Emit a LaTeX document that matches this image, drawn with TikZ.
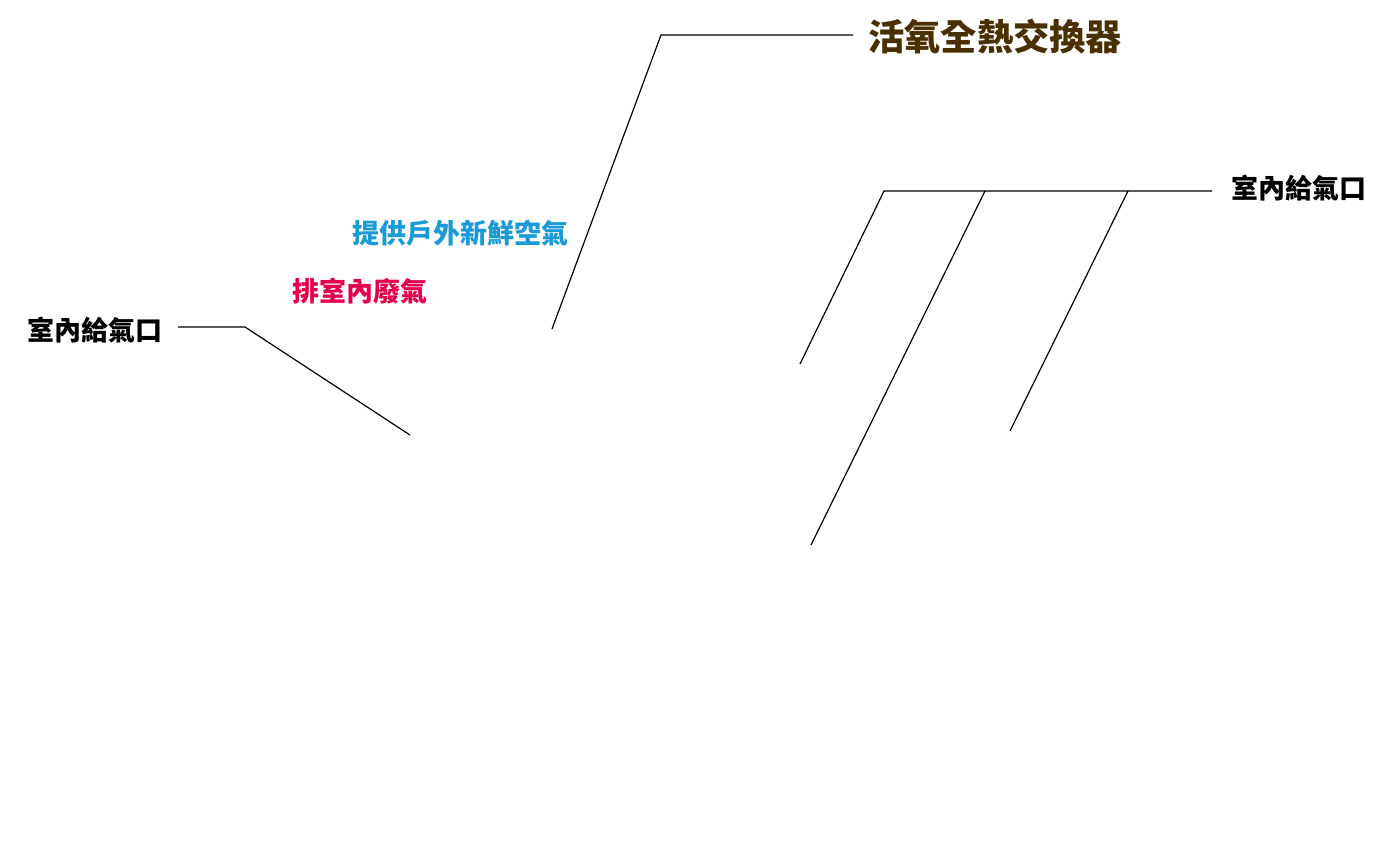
\documentclass[tikz,border=0pt]{standalone}
\usepackage{fontspec}
\usepackage{tikz}
\newfontfamily\cjk{Noto Sans CJK TC}
\definecolor{titlebrown}{HTML}{4A3000}
\definecolor{freshblue}{HTML}{1A9BD7}
\definecolor{wastered}{HTML}{E6004C}
\tikzset{
  lbl/.style={inner sep=0pt, font=\cjk\bfseries\fontsize{20.25}{22}\selectfont},
  lead/.style={black, line width=0.9pt}
}
\begin{document}
\begin{tikzpicture}[x=0.75pt,y=-0.75pt]
\useasboundingbox (0,0) rectangle (1394,845);
% labels
\node[lbl, anchor=west, text=titlebrown, font=\cjk\bfseries\fontsize{27.2}{30}\selectfont] (title) at (868,37) {活氧全熱交換器};
\node[lbl, anchor=west, text=freshblue] (fresh) at (352,233) {提供戶外新鮮空氣};
\node[lbl, anchor=west, text=wastered] (waste) at (292,291) {排室內廢氣};
\node[lbl, anchor=west] (inletL) at (27,330) {室內給氣口};
\node[lbl, anchor=west] (inletR) at (1231,188) {室內給氣口};
% leader points
\coordinate (t1) at (853,35);
\coordinate (t2) at (661,35);
\coordinate (t3) at (552,329);
\coordinate (l1) at (178,327);
\coordinate (l2) at (245,327);
\coordinate (l3) at (410,435);
\coordinate (r0) at (1212,191);
\coordinate (r1) at (884,191);
\coordinate (r2) at (985,191);
\coordinate (r3) at (1128,191);
\coordinate (e1) at (800,364);
\coordinate (e2) at (811,545);
\coordinate (e3) at (1010,431);
% leaders
\draw[lead] (t1) -- (t2) -- (t3);
\draw[lead] (l1) -- (l2) -- (l3);
\draw[lead] (r0) -- (r1) -- (e1);
\draw[lead] (r2) -- (e2);
\draw[lead] (r3) -- (e3);
\end{tikzpicture}
\end{document}
